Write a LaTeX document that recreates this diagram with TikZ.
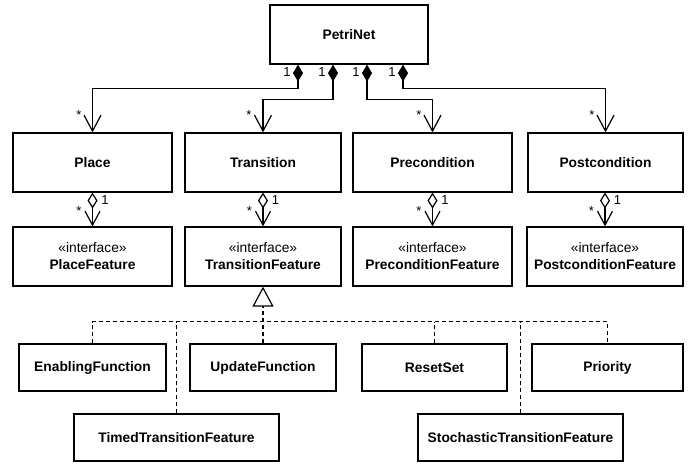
\documentclass[tikz,border=0pt]{standalone}
\usepackage{fontspec}
\setmainfont{Liberation Sans}
\usetikzlibrary{arrows.meta,calc}
\begin{document}
\begin{tikzpicture}[x=1pt,y=-1pt,
  cls/.style={draw, line width=1.2pt, inner sep=0pt, minimum height=59pt, align=center, font=\fontsize{13.8}{17}\selectfont\bfseries},
  smallcls/.style={cls, minimum height=47pt},
  lbl/.style={inner sep=0pt, font=\fontsize{13}{15}\selectfont},
  comp/.style={line width=1.2pt, {Diamond[length=17pt,width=10pt]}-{Straight Barb[length=16pt,width=17pt]}},
  aggr/.style={line width=1.2pt, {Diamond[open,length=16pt,width=10pt]}-{Straight Barb[length=14pt,width=15pt]}},
  real/.style={line width=1.2pt, dash pattern=on 4pt off 3pt},
]
\useasboundingbox (0,0) rectangle (695,465);

% top
\node[cls, minimum width=158pt] (petri) at (349,34.5) {PetriNet};

% second row
\node[cls, minimum width=159pt] (place) at (92.5,162.5) {Place};
\node[cls, minimum width=156pt] (trans) at (263,162.5) {Transition};
\node[cls, minimum width=159pt] (pre) at (432.5,162.5) {Precondition};
\node[cls, minimum width=155pt] (post) at (605.5,162.5) {Postcondition};

% features
\node[cls, minimum width=159pt] (placeF) at (92.5,256.5) {{\mdseries «interface»}\\PlaceFeature};
\node[cls, minimum width=156pt] (transF) at (263,256.5) {{\mdseries «interface»}\\TransitionFeature};
\node[cls, minimum width=159pt] (preF) at (432.5,256.5) {{\mdseries «interface»}\\PreconditionFeature};
\node[cls, minimum width=156pt] (postF) at (605,256.5) {{\mdseries «interface»}\\PostconditionFeature};

% implementations
\node[smallcls, minimum width=147pt] (enab) at (92.5,367.5) {EnablingFunction};
\node[smallcls, minimum width=146pt] (upd) at (263,367.5) {UpdateFunction};
\node[smallcls, minimum width=145pt] (reset) at (434.5,367.5) {ResetSet};
\node[smallcls, minimum width=151pt] (prio) at (607.5,367.5) {Priority};
\node[smallcls, minimum width=205pt] (timed) at (176.5,437.5) {TimedTransitionFeature};
\node[smallcls, minimum width=205pt] (stoch) at (520.5,437.5) {StochasticTransitionFeature};

% composition
\draw[comp] ([xshift=-51pt]petri.south) -- ++(0,24) -| (place.north);
\draw[comp] ([xshift=-16pt]petri.south) -- ++(0,35) -| (trans.north);
\draw[comp] ([xshift=18pt]petri.south) -- ++(0,35) -| (pre.north);
\draw[comp] ([xshift=54pt]petri.south) -- ++(0,24) -| (post.north);

\node[lbl] (c1) at (287,72) {1};
\node[lbl] (c2) at (322,72) {1};
\node[lbl] (c3) at (356,72) {1};
\node[lbl] (c4) at (392,72) {1};
\node[lbl] (s1) at (79,115) {*};
\node[lbl] (s2) at (249,115) {*};
\node[lbl] (s3) at (419,115) {*};
\node[lbl] (s4) at (592,115) {*};

% aggregation
\draw[aggr] (place.south) -- (placeF.north);
\draw[aggr] (trans.south) -- (transF.north);
\draw[aggr] (pre.south) -- (preF.north);
\draw[aggr] (post.south -| postF.north) -- (postF.north);

\node[lbl] (a1) at (105,200) {1};
\node[lbl] (a2) at (275.5,200) {1};
\node[lbl] (a3) at (445,200) {1};
\node[lbl] (a4) at (617.5,200) {1};
\node[lbl] (b1) at (79,211) {*};
\node[lbl] (b2) at (249.5,211) {*};
\node[lbl] (b3) at (419,211) {*};
\node[lbl] (b4) at (591.5,211) {*};

% realization
\coordinate (bus) at ([yshift=-35pt]transF.south);
\draw[real] (enab.north) |- (prio.north |- bus) -- (prio.north);
\draw[real] (timed.north) -- (timed.north |- bus);
\draw[real] (reset.north) -- (reset.north |- bus);
\draw[real] (stoch.north) -- (stoch.north |- bus);
\draw[real, -{Triangle[open,length=20pt,width=21pt]}] (upd.north) -- (transF.south);
\end{tikzpicture}
\end{document}
